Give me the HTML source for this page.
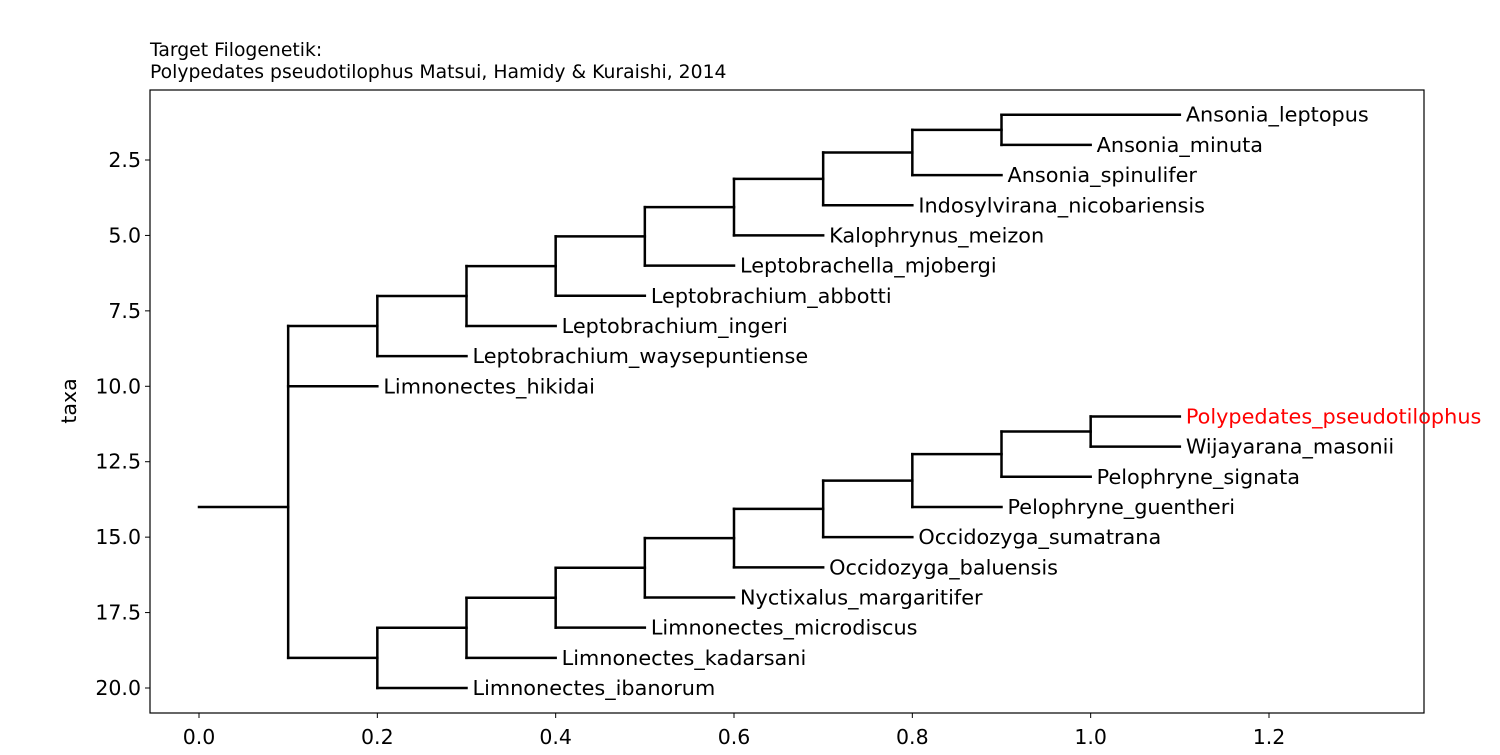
<!DOCTYPE html>
<html><head><meta charset="utf-8">
<style>
body{margin:0;background:#fff;}
svg text{font-family:"DejaVu Sans","Liberation Sans",sans-serif;}
</style></head>
<body>
<svg id="chart" width="1500" height="750" xmlns="http://www.w3.org/2000/svg"></svg>
<script>
const upperTree = [[[[[[[["Ansonia_leptopus","Ansonia_minuta"],"Ansonia_spinulifer"],"Indosylvirana_nicobariensis"],"Kalophrynus_meizon"],"Leptobrachella_mjobergi"],"Leptobrachium_abbotti"],"Leptobrachium_ingeri"],"Leptobrachium_waysepuntiense"];
const lowerTree = [[[[[[[[["Polypedates_pseudotilophus","Wijayarana_masonii"],"Pelophryne_signata"],"Pelophryne_guentheri"],"Occidozyga_sumatrana"],"Occidozyga_baluensis"],"Nyctixalus_margaritifer"],"Limnonectes_microdiscus"],"Limnonectes_kadarsani"],"Limnonectes_ibanorum"];
const tree = [upperTree, "Limnonectes_hikidai", lowerTree];
const leafNames = ["Ansonia_leptopus","Ansonia_minuta","Ansonia_spinulifer","Indosylvirana_nicobariensis","Kalophrynus_meizon","Leptobrachella_mjobergi","Leptobrachium_abbotti","Leptobrachium_ingeri","Leptobrachium_waysepuntiense","Limnonectes_hikidai","Polypedates_pseudotilophus","Wijayarana_masonii","Pelophryne_signata","Pelophryne_guentheri","Occidozyga_sumatrana","Occidozyga_baluensis","Nyctixalus_margaritifer","Limnonectes_microdiscus","Limnonectes_kadarsani","Limnonectes_ibanorum"];
const leafX = [1.1,1.0,0.9,0.8,0.7,0.6,0.5,0.4,0.3,0.2,1.1,1.1,1.0,0.9,0.8,0.7,0.6,0.5,0.4,0.3];
const highlight = "Polypedates_pseudotilophus";
const rootY = 14;
const xTicks = [0.0,0.2,0.4,0.6,0.8,1.0,1.2];
const xTickLabels = ["0.0","0.2","0.4","0.6","0.8","1.0","1.2"];
const yTicks = [2.5,5,7.5,10,12.5,15,17.5,20];
const yTickLabels = ["2.5","5.0","7.5","10.0","12.5","15.0","17.5","20.0"];

const svg = document.getElementById('chart');
const NS = "http://www.w3.org/2000/svg";
const L=150,R=1424,T=90,B=713;
const FS='20.5px';
const X = v => 199 + v*(1269-199)/1.2;
const Y = v => 160 + (v-2.5)*(688-160)/17.5;
function mk(tag, attrs){const e=document.createElementNS(NS,tag);for(const k in attrs)e.setAttribute(k,attrs[k]);svg.appendChild(e);return e;}
function line(x1,y1,x2,y2,name){const e=mk('line',{x1,y1,x2,y2,stroke:'#000','stroke-width':2.5,'stroke-linecap':'square'});

return e;}
function txt(x,y,s,attrs,name){const e=mk('text',Object.assign({x,y},attrs));e.textContent=s;

return e;}

const fr=mk('rect',{x:L,y:T,width:R-L,height:B-T,fill:'none',stroke:'#000','stroke-width':1.2});



function draw(node, depth){
  if(typeof node==='string'){
    const i=leafNames.indexOf(node);
    return {y:i+1, x:leafX[i], name:node};
  }
  const nx = 0.1*(depth+1);
  const kids = node.map(c=>draw(c,depth+1));
  const ys = kids.map(k=>k.y);
  const ymin=Math.min(...ys), ymax=Math.max(...ys);
  line(X(nx),Y(ymin),X(nx),Y(ymax),'clade-vertical-'+depth);
  kids.forEach(k=>{
    line(X(nx),Y(k.y),X(k.x),Y(k.y),k.name?('branch-'+k.name.toLowerCase()):'internal-branch');
    if(k.name){
      txt(X(k.x)+6,Y(k.y)+7,k.name,{'font-size':'20.8px',fill:k.name===highlight?'#ff0000':'#000'},'leaf-label-'+k.name.toLowerCase());
    }
  });
  return {y:(ymin+ymax)/2, x:nx, name:null};
}
draw(tree,0);
line(X(0),Y(rootY),X(0.1),Y(rootY),'root-branch');

xTicks.forEach((v,i)=>{
  const t=mk('line',{x1:X(v),y1:B,x2:X(v),y2:B+5,stroke:'#000','stroke-width':1});
  
  
  txt(X(v),B+31,xTickLabels[i],{'font-size':FS,'text-anchor':'middle'},'x-tick-label');
});
yTicks.forEach((v,i)=>{
  const t=mk('line',{x1:L-5,y1:Y(v),x2:L,y2:Y(v),stroke:'#000','stroke-width':1});
  
  
  txt(L-9,Y(v)+7,yTickLabels[i],{'font-size':FS,'text-anchor':'end'},'y-tick-label');
});
txt(0,0,'taxa',{'font-size':FS,'text-anchor':'middle',transform:'translate(76,401) rotate(-90)'},'y-axis-title');
txt(150,56,'Target Filogenetik:',{'font-size':'18.8px'},'chart-title-line1');
txt(150,78,'Polypedates pseudotilophus Matsui, Hamidy & Kuraishi, 2014',{'font-size':'18.8px'},'chart-title-line2');
</script>
</body></html>
